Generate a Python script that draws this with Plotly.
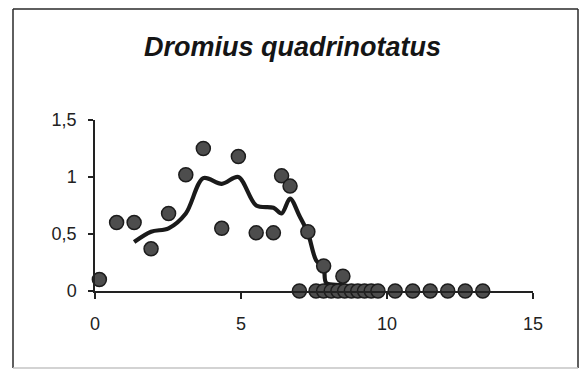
import plotly.graph_objects as go

# Observed catches (points)
obs_x = [0.15, 0.74, 1.34, 1.92, 2.52, 3.11, 3.71, 4.34, 4.91, 5.52, 6.11,
         6.39, 6.68, 7.0, 7.29, 7.57, 7.83, 7.83, 8.09, 8.32, 8.49, 8.55,
         8.78, 9.0, 9.23, 9.46, 9.69, 10.28, 10.88, 11.48, 12.08, 12.68, 13.28]
obs_y = [0.10, 0.60, 0.60, 0.37, 0.68, 1.02, 1.25, 0.55, 1.18, 0.51, 0.51,
         1.01, 0.92, 0.0, 0.52, 0.0, 0.22, 0.0, 0.0, 0.0, 0.13, 0.0,
         0.0, 0.0, 0.0, 0.0, 0.0, 0.0, 0.0, 0.0, 0.0, 0.0, 0.0]

# Running-mean curve
trend_x = [1.34, 1.92, 2.52, 3.11, 3.71, 4.34, 4.91, 5.52, 6.11, 6.39,
           6.68, 7.0, 7.29, 7.57, 7.83, 7.92, 8.5, 9.0]
trend_y = [0.43, 0.52, 0.55, 0.68, 0.99, 0.94, 1.0, 0.75, 0.73, 0.68,
           0.81, 0.66, 0.51, 0.27, 0.20, 0.07, 0.05, 0.0]

x_ticks = [0, 5, 10, 15]
y_ticks = [0, 0.5, 1, 1.5]
y_tick_text = ["0", "0,5", "1", "1,5"]

W, H = 579, 369
L, R, T, B = 95, 46, 120, 78
pw, ph = W - L - R, H - T - B


def px_to_paper(px, py):
    return (px - L) / pw, (H - B - py) / ph


fig = go.Figure()

fig.add_trace(go.Scatter(
    x=trend_x, y=trend_y, mode="lines",
    line=dict(color="#1a1a1a", width=4.2, shape="spline", smoothing=0.9),
    cliponaxis=False, hoverinfo="skip",
))

fig.add_trace(go.Scatter(
    x=obs_x, y=obs_y, mode="markers",
    marker=dict(size=14, color="#4d4d4d", symbol="circle",
                line=dict(color="#1c1c1c", width=1.5)),
    cliponaxis=False,
))
# speckled texture on the dots
fig.add_trace(go.Scatter(
    x=obs_x, y=obs_y, mode="markers",
    marker=dict(size=6, color="rgba(0,0,0,0)", symbol="asterisk-open",
                line=dict(color="#a8a8a8", width=1)),
    cliponaxis=False, hoverinfo="skip",
))

# outer frame: dark top/left/right edges, faint bottom edge
fl, fb = px_to_paper(13, 368)
fr, ft = px_to_paper(578, 9)
for (ax0, ay0, ax1, ay1, col) in [
    (fl, ft, fr, ft, "#2a2a2a"),
    (fl, ft, fl, fb, "#2a2a2a"),
    (fr, ft, fr, fb, "#2a2a2a"),
    (fl, fb, fr, fb, "#c4c4c4"),
]:
    fig.add_shape(type="line", xref="paper", yref="paper",
                  x0=ax0, y0=ay0, x1=ax1, y1=ay1,
                  line=dict(color=col, width=1.5))

fig.update_layout(
    width=W, height=H,
    margin=dict(l=L, r=R, t=T, b=B),
    paper_bgcolor="white", plot_bgcolor="white",
    showlegend=False,
    font=dict(family="Liberation Sans, Arial, sans-serif", color="#222222"),
    title=dict(text="<b><i>Dromius quadrinotatus</i></b>",
               x=292.5 / W, xanchor="center",
               y=1 - 47 / H, yanchor="middle",
               font=dict(size=27, color="#151515")),
)

fig.update_xaxes(
    range=[0, 15], tickvals=x_ticks, ticktext=[str(v) for v in x_ticks],
    showgrid=False, zeroline=False,
    showline=True, linecolor="#222222", linewidth=1.5,
    ticks="outside", ticklen=6, tickwidth=1.5, tickcolor="#222222",
    tickfont=dict(size=18), ticklabelstandoff=10,
)
fig.update_yaxes(
    range=[0, 1.5], tickvals=y_ticks, ticktext=y_tick_text,
    showgrid=False, zeroline=False,
    showline=True, linecolor="#222222", linewidth=1.5,
    ticks="outside", ticklen=5, tickwidth=1.5, tickcolor="#222222",
    tickfont=dict(size=18), ticklabelstandoff=8,
)

fig.write_html("out.html")
